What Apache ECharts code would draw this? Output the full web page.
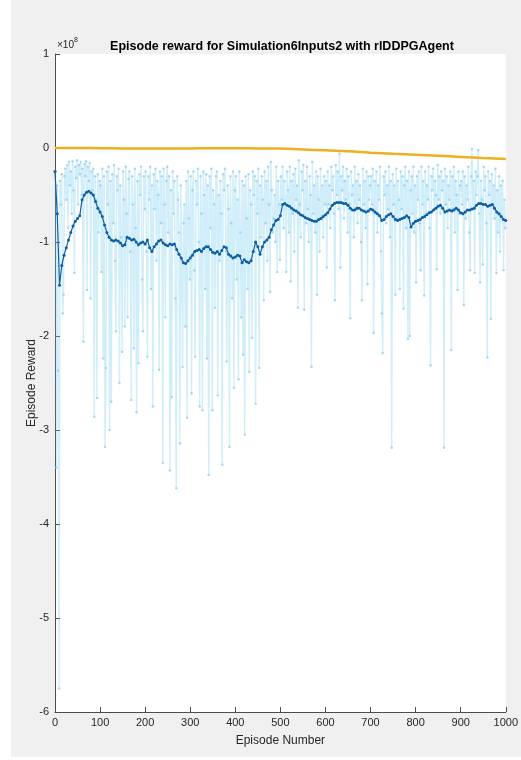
<!DOCTYPE html>
<html>
<head>
<meta charset="utf-8">
<script src="https://cdn.jsdelivr.net/npm/echarts@6/dist/echarts.min.js"></script>
<style>
  html, body { margin: 0; padding: 0; background: #ffffff; }
  #chart-container { position: absolute; left: 11px; top: 0; width: 510px; height: 757px; }
</style>
</head>
<body>
<div id="chart-container"></div>
<script>
// all rewards in units of 1e8
const REWARD_STEP = 2; // episode reward sampled every 2 episodes, from episode 1
const episodeReward = [
  -0.25, -3.40, -0.40, -2.37, -5.75, -0.35, -0.60, -0.28, -1.76, -1.56, -0.30, -0.22, -0.55, -0.18, -0.85, -0.15, -0.40, -0.25, -0.70, -0.14, -0.45, -1.33, -0.20, -0.32, -0.13, -0.60, -0.18, -0.28, -0.15, -0.50, -0.22, -2.06, -0.17, -0.30, -0.14, -1.51, -0.20, -0.35, -0.16, -1.60, -0.25, -0.45, -0.22, -2.86, -0.30, -0.55, -2.66, -0.28, -0.90, -0.35,
  -0.40, -1.32, -0.22, -2.24, -0.30, -3.18, -2.34, -0.25, -0.60, -0.20, -3.00, -0.35, -2.70, -0.28, -0.80, -0.18, -1.20, -1.95, -0.30, -0.45, -0.22, -2.50, -0.40, -0.95, -2.17, -0.25, -0.55, -1.90, -0.20, -0.70, -1.80, -0.33, -0.25, -1.10, -2.68, -0.30, -0.60, -2.13, -0.22, -0.85, -2.81, -0.35, -2.29, -0.28, -0.50, -0.20, -1.40, -1.95, -0.30, -0.65,
  -0.25, -1.10, -2.22, -0.30, -0.55, -0.20, -1.50, -0.40, -2.75, -0.28, -0.65, -0.22, -1.20, -0.35, -0.50, -2.36, -0.25, -0.80, -0.30, -3.35, -0.22, -0.60, -1.80, -0.35, -0.20, -0.90, -0.30, -3.43, -0.45, -2.65, -0.25, -0.70, -0.35, -1.60, -3.62, -0.30, -0.55, -0.90, -3.14, -0.40, -1.20, -2.33, -0.80, -0.60, -1.90, -0.35, -2.87, -0.25, -0.75, -1.40,
  -0.30, -2.61, -0.45, -0.25, -1.30, -2.22, -0.35, -0.60, -0.22, -1.00, -2.75, -0.30, -0.70, -2.79, -0.25, -0.50, -1.50, -0.28, -2.24, -0.40, -3.48, -0.30, -0.85, -0.22, -2.79, -0.45, -0.60, -1.70, -0.30, -0.25, -2.63, -0.50, -1.20, -0.35, -0.70, -3.37, -0.28, -0.45, -0.22, -1.10, -2.27, -0.40, -0.65, -3.18, -0.30, -0.80, -1.60, -0.25, -2.55, -0.45,
  -0.30, -1.40, -0.55, -2.46, -0.25, -0.90, -1.80, -0.35, -2.20, -0.40, -3.05, -0.30, -0.75, -1.50, -0.28, -2.38, -0.45, -0.60, -2.02, -0.25, -0.50, -0.30, -2.72, -0.35, -0.70, -0.22, -2.34, -0.40, -0.95, -0.30, -0.55, -1.62, -0.25, -0.80, -0.35, -1.20, -0.20, -0.60, -1.53, -0.15, -0.45, -0.90, -0.75, -0.50, -1.00, -0.20, -1.32, -0.35, -0.60, -1.19,
  -0.30, -0.55, -0.20, -0.85, -0.35, -0.60, -1.32, -0.25, -0.45, -0.90, -0.20, -1.42, -0.35, -0.70, -0.28, -1.10, -0.22, -0.55, -0.40, -1.70, -0.13, -0.60, -0.95, -0.25, -0.45, -0.18, -1.72, -0.35, -0.80, -0.20, -0.65, -1.00, -0.30, -0.50, -2.33, -0.15, -0.70, -0.40, -0.90, -0.25, -1.56, -0.30, -0.55, -1.10, -0.22, -0.75, -0.40, -0.95, -0.30, -0.60,
  -0.35, -1.27, -0.25, -0.60, -0.40, -0.85, -0.20, -0.45, -0.30, -0.70, -1.62, -0.18, -0.50, -0.25, -0.65, -0.06, -1.27, -0.30, -0.45, -0.20, -0.75, -0.35, -0.55, -0.22, -0.90, -0.30, -0.60, -1.81, -0.25, -0.50, -0.40, -0.95, -0.20, -0.65, -0.35, -0.80, -0.28, -0.55, -0.40, -1.00, -1.62, -0.22, -0.60, -0.35, -0.85, -0.25, -1.45, -0.30, -0.55, -0.40,
  -0.30, -0.60, -0.22, -1.97, -0.35, -0.70, -0.25, -0.90, -0.40, -0.55, -0.20, -1.10, -1.76, -2.18, -0.30, -0.50, -0.25, -0.80, -0.40, -0.65, -0.20, -0.95, -0.35, -3.19, -0.28, -0.60, -0.40, -1.56, -0.22, -0.75, -0.35, -0.55, -1.50, -0.25, -0.65, -0.30, -1.71, -0.40, -0.20, -0.85, -0.35, -2.03, -0.25, -2.00, -0.45, -0.30, -0.70, -0.20, -0.90, -0.40,
  -1.43, -0.30, -0.55, -0.25, -0.80, -1.30, -0.20, -0.60, -0.35, -1.57, -0.25, -0.70, -0.40, -0.55, -0.20, -0.85, -2.31, -0.30, -0.45, -0.22, -0.65, -0.35, -0.50, -1.29, -0.18, -0.55, -0.30, -0.70, -0.25, -0.45, -0.35, -3.19, -0.22, -0.60, -0.30, -0.85, -0.40, -0.55, -0.25, -2.15, -0.30, -0.65, -0.20, -0.90, -0.35, -0.50, -1.51, -0.25, -0.70, -0.40,
  -0.35, -0.60, -0.25, -1.67, -0.30, -0.75, -0.40, -0.55, -0.20, -0.90, -1.30, -0.30, -0.01, -0.65, -0.35, -1.33, -0.25, -0.50, -0.30, -0.02, -0.70, -1.43, -0.35, -0.55, -1.24, -0.20, -0.45, -0.30, -0.80, -2.23, -0.25, -0.50, -0.35, -1.82, -0.28, -0.60, -0.40, -0.75, -0.22, -1.33, -0.45, -0.90, -0.30, -1.10, -0.40, -0.75, -0.35, -1.30, -0.55, -0.85
];

const AVG_STEP = 5; // average reward every 5 episodes, from episode 0
const averageReward = [
  -0.25, -0.70, -1.46, -1.25, -1.14, -1.06, -0.98, -0.90, -0.83, -0.78, -0.75, -0.72, -0.55, -0.50, -0.47, -0.46, -0.48, -0.50, -0.57, -0.64,
  -0.68, -0.73, -0.82, -0.90, -0.95, -0.98, -0.99, -0.98, -0.99, -1.01, -1.04, -1.03, -0.95, -0.96, -0.98, -0.97, -1.00, -1.03, -1.01, -1.00,
  -1.02, -0.98, -1.06, -1.10, -1.05, -1.02, -0.99, -0.98, -1.01, -1.03, -1.04, -1.02, -1.03, -1.02, -1.08, -1.13, -1.17, -1.22, -1.23, -1.20,
  -1.17, -1.14, -1.10, -1.09, -1.08, -1.10, -1.07, -1.05, -1.05, -1.08, -1.11, -1.12, -1.10, -1.13, -1.09, -1.05, -1.06, -1.13, -1.15, -1.17,
  -1.16, -1.14, -1.15, -1.22, -1.19, -1.21, -1.22, -1.20, -1.10, -1.00, -1.05, -1.13, -1.05, -1.00, -0.98, -0.95, -0.87, -0.82, -0.77, -0.76,
  -0.72, -0.60, -0.59, -0.61, -0.62, -0.64, -0.66, -0.67, -0.69, -0.71, -0.72, -0.74, -0.75, -0.76, -0.77, -0.78, -0.78, -0.76, -0.75, -0.73,
  -0.71, -0.69, -0.65, -0.61, -0.59, -0.58, -0.58, -0.58, -0.59, -0.59, -0.61, -0.64, -0.66, -0.66, -0.64, -0.64, -0.66, -0.67, -0.68, -0.67,
  -0.65, -0.66, -0.68, -0.70, -0.72, -0.77, -0.76, -0.73, -0.71, -0.70, -0.73, -0.76, -0.77, -0.76, -0.75, -0.74, -0.72, -0.74, -0.84, -0.80,
  -0.78, -0.77, -0.76, -0.74, -0.73, -0.71, -0.69, -0.68, -0.66, -0.64, -0.62, -0.61, -0.64, -0.68, -0.67, -0.66, -0.67, -0.66, -0.64, -0.66,
  -0.69, -0.70, -0.68, -0.66, -0.66, -0.65, -0.64, -0.61, -0.59, -0.59, -0.60, -0.60, -0.62, -0.61, -0.60, -0.64, -0.68, -0.70, -0.73, -0.76,
  -0.77
];

const Q0_STEP = 50; // episode Q0 every 50 episodes
const episodeQ0 = [
  0.000, 0.000, -0.002, -0.004, -0.004, -0.004, -0.004, -0.003, -0.003, -0.004,
  -0.005, -0.015, -0.025, -0.035, -0.050, -0.062, -0.072, -0.083, -0.095, -0.107, -0.118
];

const yTicks = [1, 0, -1, -2, -3, -4, -5, -6];
const xTicks = [0, 100, 200, 300, 400, 500, 600, 700, 800, 900, 1000];

const FONT = "'Liberation Sans', Arial, Helvetica, sans-serif";
const AXIS_COLOR = "#4d4d4d";
const TEXT_COLOR = "#262626";

const dom = document.getElementById("chart-container");
const myChart = echarts.init(dom, null, { renderer: "canvas" });

const option = {
  animation: false,
  backgroundColor: "#f0f0f0",
  textStyle: { fontFamily: FONT },
  title: {
    text: "Episode reward for Simulation6Inputs2 with rlDDPGAgent",
    left: 266,
    textAlign: "center",
    top: 35,
    textStyle: { fontSize: 12.5, fontWeight: "bold", color: "#000", fontFamily: FONT },
  },
  graphic: [
    {
      type: "text",
      left: 46,
      top: 37,
      style: {
        text: "{a|×10}{b|8}",
        rich: {
          a: { fontSize: 10, fill: TEXT_COLOR, fontFamily: FONT, verticalAlign: "bottom" },
          b: { fontSize: 7, fill: TEXT_COLOR, fontFamily: FONT, verticalAlign: "top", padding: [0, 0, 6, 0] },
        },
      },
    },
  ],
  grid: {
    left: 44,
    right: 11,
    top: 54,
    bottom: 45,
    show: true,
    backgroundColor: "#ffffff",
    borderWidth: 0,
  },
  xAxis: {
    type: "value",
    min: 0,
    max: 1000,
    interval: 100,
    name: "Episode Number",
    nameLocation: "middle",
    nameGap: 23,
    nameTextStyle: { fontSize: 12, color: TEXT_COLOR, fontFamily: FONT },
    axisLine: { show: true, onZero: false, lineStyle: { color: AXIS_COLOR, width: 1 } },
    axisTick: { show: true, inside: true, length: 5, lineStyle: { color: AXIS_COLOR } },
    axisLabel: {
      fontSize: 11,
      color: TEXT_COLOR,
      margin: 5,
      formatter: (v) => (xTicks.includes(v) ? String(v) : ""),
    },
    splitLine: { show: false },
  },
  yAxis: {
    type: "value",
    min: -6,
    max: 1,
    interval: 1,
    name: "Episode Reward",
    nameLocation: "middle",
    nameGap: 17,
    nameRotate: 90,
    nameMoveOverlap: false,
    nameTextStyle: { fontSize: 12, color: TEXT_COLOR, fontFamily: FONT },
    axisLine: { show: true, lineStyle: { color: AXIS_COLOR, width: 1 } },
    axisTick: { show: true, inside: true, length: 5, lineStyle: { color: AXIS_COLOR } },
    axisLabel: {
      fontSize: 11,
      color: TEXT_COLOR,
      margin: 6,
      formatter: (v) => (yTicks.includes(v) ? String(v) : ""),
    },
    splitLine: { show: false },
  },
  series: [
    {
      name: "Episode Reward",
      type: "line",
      data: episodeReward.map((v, i) => [1 + i * REWARD_STEP, v]),
      symbol: "circle",
      symbolSize: 2.5,
      showSymbol: true,
      itemStyle: { color: "rgba(140,205,240,0.75)" },
      lineStyle: { color: "rgba(110,200,240,0.32)", width: 1.4 },
      z: 1,
    },
    {
      name: "Average Reward",
      type: "line",
      data: averageReward.map((v, i) => [i * AVG_STEP, v]),
      symbol: "circle",
      symbolSize: 3,
      showSymbol: true,
      itemStyle: { color: "#0b5fa5" },
      lineStyle: { color: "#0b5fa5", width: 1.2 },
      z: 3,
    },
    {
      name: "Episode Q0",
      type: "line",
      data: episodeQ0.map((v, i) => [i * Q0_STEP, v]),
      smooth: true,
      symbol: "none",
      lineStyle: { color: "#EDB120", width: 2.5 },
      z: 2,
    },
  ],
};

if (option && typeof option === "object") {
  myChart.setOption(option);
}

window.addEventListener("resize", myChart.resize);
</script>
</body>
</html>
